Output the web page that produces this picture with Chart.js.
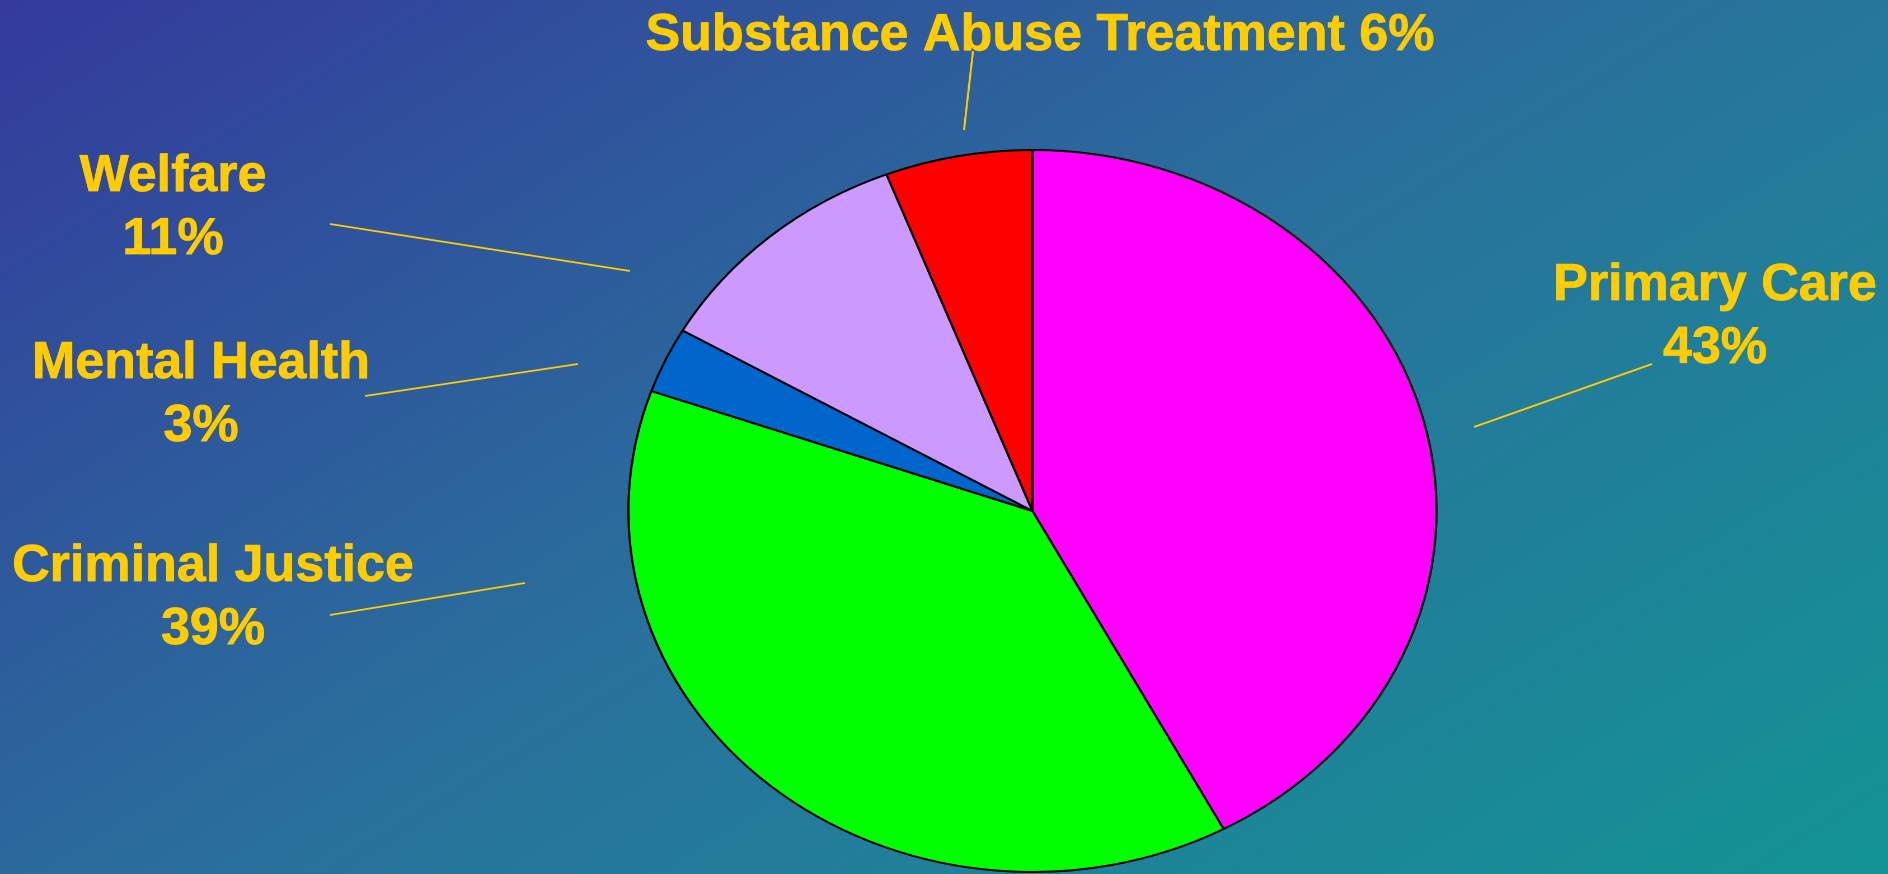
<!DOCTYPE html>
<html>
<head>
<meta charset="utf-8">
<title>Spending shares</title>
<script src="https://cdn.jsdelivr.net/npm/chart.js@4.4.1/dist/chart.umd.min.js"></script>
<style>
  html, body { margin: 0; padding: 0; }
  body {
    width: 1888px;
    height: 874px;
    overflow: hidden;
    background: linear-gradient(148deg, #343a9c 0%, #29719c 50%, #139494 100%);
  }
  /* the pie is an ellipse: draw it round and stretch the box sideways */
  #wrap {
    position: absolute;
    left: 0;
    top: 0;
    width: 1687px;
    height: 874px;
    transform: scaleX(1.1192);
    transform-origin: 0 0;
  }
</style>
</head>
<body>
<div id="wrap"><canvas id="pie"></canvas></div>
<script>
var categories = ["Primary Care", "Criminal Justice", "Mental Health", "Welfare", "Substance Abuse Treatment"];
var shares = [43, 39, 3, 11, 6];
var sliceColors = ["#ff00ff", "#00ff00", "#0066cc", "#cc99ff", "#ff0000"];

// horizontal stretch applied to #wrap
var stretch = 1.1192;

// label placement in page pixels: text centre x, first baseline y, leader line x1,y1,x2,y2
var callouts = [
  { x: 1715, y: 300, oneLine: false, line: [1474, 427, 1652, 364] },
  { x: 213,  y: 581, oneLine: false, line: [330, 615, 525, 583] },
  { x: 201,  y: 378, oneLine: false, line: [365, 396, 578, 364] },
  { x: 173,  y: 191, oneLine: false, line: [330, 224, 630, 271] },
  { x: 1040, y: 50,  oneLine: true,  line: [973, 51, 964, 130] }
];

var calloutPlugin = {
  id: "callouts",
  afterDraw: function(chart) {
    var ctx = chart.ctx;
    ctx.save();
    ctx.strokeStyle = "#ffcc00";
    ctx.lineWidth = 1.8;
    callouts.forEach(function(c) {
      ctx.beginPath();
      ctx.moveTo(c.line[0] / stretch, c.line[1]);
      ctx.lineTo(c.line[2] / stretch, c.line[3]);
      ctx.stroke();
    });

    ctx.fillStyle = "#ffcc00";
    ctx.lineWidth = 0.8;
    ctx.lineJoin = "round";
    ctx.font = "bold 52px 'Liberation Sans', Arial, sans-serif";
    ctx.textAlign = "center";
    ctx.textBaseline = "alphabetic";
    callouts.forEach(function(c, i) {
      var rows = c.oneLine
        ? [categories[i] + " " + shares[i] + "%"]
        : [categories[i], shares[i] + "%"];
      rows.forEach(function(txt, j) {
        ctx.save();
        ctx.translate(c.x / stretch, c.y + j * 63);
        ctx.scale(1 / stretch, 1);   // undo the sideways stretch for text
        ctx.fillText(txt, 0, 0);
        ctx.strokeText(txt, 0, 0);
        ctx.restore();
      });
    });
    ctx.restore();
  }
};

var ctx = document.getElementById("pie");

var pieChart = new Chart(ctx, {
  type: "pie",
  data: {
    labels: categories,
    datasets: [{
      data: shares,
      backgroundColor: sliceColors,
      borderColor: "#000000",
      borderWidth: 2,
      radius: 361
    }]
  },
  options: {
    responsive: true,
    maintainAspectRatio: false,
    devicePixelRatio: 2,
    animation: false,
    layout: {
      padding: { left: 158, right: 0, top: 148, bottom: 0 }
    },
    plugins: {
      legend: { display: false },
      tooltip: { enabled: false }
    }
  },
  plugins: [calloutPlugin]
});
</script>
</body>
</html>
